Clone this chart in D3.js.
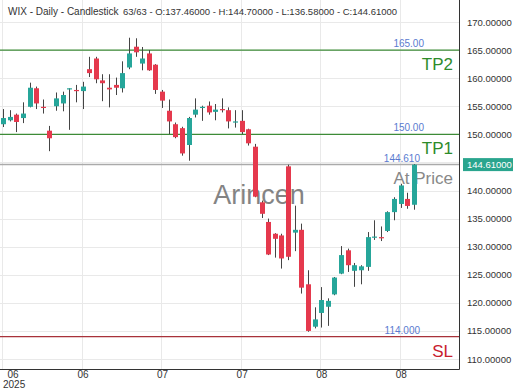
<!DOCTYPE html>
<html>
<head>
<meta charset="utf-8">
<script src="https://cdn.jsdelivr.net/npm/d3@7"></script>
<style>
  body { margin: 0; background: #fff; }
  svg { font-family: "Liberation Sans", Arial, sans-serif; }
</style>
</head>
<body>
<script>
// daily candles, 63 sessions
const open  = [151.8,152.5,153.5,152.9,154.9,158.2,154.9,150.65,155.0,155.5,158.0,157.9,157.7,161.6,163.5,159.6,158.3,158.8,158.2,161.9,165.6,162.6,164.4,162.4,157.6,154.2,151.8,151.1,148.1,153.5,154.7,155.1,154.0,154.5,154.3,152.1,152.4,150.9,147.8,137.9,134.4,132.3,132.0,144.3,132.5,133.0,123.3,115.75,118.2,119.3,121.5,125.2,129.35,125.7,125.8,126.4,131.6,131.7,132.8,136.15,137.6,138.5,137.46]
const high  = [154.5,154.3,153.7,155.7,159.2,158.5,156.2,151.5,157.45,157.6,158.2,158.8,159.35,163.8,163.8,160.7,160.7,160.1,163.0,167.2,167.1,165.55,165.0,162.5,157.9,156.2,152.1,151.35,153.1,156.4,155.1,155.85,155.4,156.4,154.8,154.3,154.3,151.0,148.3,138.2,135.0,132.4,132.3,144.6,137.3,134.1,125.8,119.2,122.8,120.8,124.6,130.1,129.65,127.1,126.7,132.6,134.7,133.6,136.3,138.8,141.2,139.6,144.70]
const low   = [151.3,152.3,150.4,152.0,154.8,154.5,153.7,147.0,154.2,154.1,150.8,155.7,154.5,160.2,159.1,155.9,154.8,157.0,157.45,161.6,163.8,161.4,161.3,157.2,154.7,150.05,149.3,146.2,145.3,153.0,152.4,153.5,152.5,153.9,151.05,151.2,150.05,148.0,138.8,135.1,128.5,128.05,126.1,127.6,129.2,121.65,114.85,115.45,115.6,115.9,121.35,125.1,125.5,122.85,123.3,125.7,131.2,131.0,132.6,134.7,136.9,136.75,136.58]
const close = [152.9,153.1,152.2,153.7,158.3,155.5,154.7,149.3,156.4,157.0,158.2,157.8,158.5,160.9,159.8,159.1,158.0,158.3,160.9,164.4,164.6,163.5,161.4,157.9,156.0,152.3,149.5,146.6,152.9,154.4,154.9,153.9,154.4,154.3,152.3,152.3,150.4,148.4,138.9,135.85,128.6,131.4,127.9,128.2,133.0,122.7,115.0,117.05,120.5,120.35,124.5,128.5,126.7,126.7,126.5,131.7,131.8,131.5,136.15,138.5,140.9,137.25,144.61]

const yTicks = [110,115,120,125,130,135,140,145,150,155,160,165,170,175]
const xTickIdx = [0,12,24,36,48,60]
const xTickLabels = ['06','06','07','07','08','08']

const levels = [165, 150, 114]
const levelNames = ['TP2','TP1','SL']
const levelText = ['165.00','150.00','114.000']
const lastPrice = 144.61

const W = 520, H = 390
const plotR = 459, plotB = 369
const up = '#26a69a', down = '#e5394d'

const svg = d3.select('body').append('svg').attr('width', W).attr('height', H)

const x = d3.scaleLinear().domain([0, 62]).range([3, 414])
const y = d3.scaleLinear().domain([110, 170]).range([359, 22])

svg.append('clipPath').attr('id', 'pc').append('rect')
  .attr('x', 0).attr('y', 0).attr('width', plotR).attr('height', plotB)

// grid
const grid = svg.append('g').attr('clip-path', 'url(#pc)')
grid.selectAll('.hg').data(yTicks).enter().append('line')
  .attr('x1', 0).attr('x2', plotR)
  .attr('y1', d => Math.round(y(d)) + 0.5).attr('y2', d => Math.round(y(d)) + 0.5)
  .attr('stroke', '#e9e9e9')
grid.selectAll('.vg').data(xTickIdx).enter().append('line')
  .attr('x1', d => Math.round(x(d)) - 0.5).attr('x2', d => Math.round(x(d)) - 0.5)
  .attr('y1', 0).attr('y2', plotB)
  .attr('stroke', '#e9e9e9')

// watermark
svg.append('text').attr('x', 259).attr('y', 204).attr('text-anchor', 'middle')
  .attr('font-size', 27).attr('fill', '#777').attr('opacity', 0.9).text('Arincen')

// levels
const lvColor = ['#3d8b37', '#3d8b37', '#a8323a']
const lv = svg.append('g')
levels.forEach((v, i) => {
  lv.append('line').attr('x1', 0).attr('x2', plotR)
    .attr('y1', y(v)).attr('y2', y(v))
    .attr('stroke', lvColor[i]).attr('stroke-width', 1.2)
  lv.append('text').attr('x', i == 2 ? 420 : 424).attr('y', y(v) - 3)
    .attr('text-anchor', 'end').attr('font-size', 10).attr('fill', '#5a7bd0')
    .text(levelText[i])
  lv.append('text').attr('x', 453).attr('y', y(v) + 20)
    .attr('text-anchor', 'end').attr('font-size', 17).attr('fill', i == 2 ? '#c8202e' : '#2e8b2a')
    .text(levelNames[i])
})
lv.append('line').attr('x1', 0).attr('x2', plotR)
  .attr('y1', y(lastPrice)).attr('y2', y(lastPrice))
  .attr('stroke', '#aaa').attr('stroke-width', 1.5)
lv.append('text').attr('x', 420).attr('y', y(lastPrice) - 3)
  .attr('text-anchor', 'end').attr('font-size', 10).attr('fill', '#5a7bd0')
  .text(lastPrice.toFixed(3))
lv.append('text').attr('x', 453).attr('y', y(lastPrice) + 19)
  .attr('text-anchor', 'end').attr('font-size', 17).attr('fill', '#888')
  .text('At Price')

// candles
const idx = d3.range(open.length)
const cg = svg.append('g').attr('clip-path', 'url(#pc)')
cg.selectAll('.wick').data(idx).enter().append('line')
  .attr('x1', i => Math.round(x(i)) + 0.5).attr('x2', i => Math.round(x(i)) + 0.5)
  .attr('y1', i => y(high[i])).attr('y2', i => y(low[i]))
  .attr('stroke', '#444').attr('stroke-width', 1)
cg.selectAll('.body').data(idx).enter().append('rect')
  .attr('x', i => Math.round(x(i)) - 2)
  .attr('width', 5)
  .attr('y', i => y(Math.max(open[i], close[i])))
  .attr('height', i => Math.max(1.2, Math.abs(y(open[i]) - y(close[i]))))
  .attr('fill', i => close[i] >= open[i] ? up : down)

// frame
svg.append('line').attr('x1', plotR + 0.5).attr('x2', plotR + 0.5).attr('y1', 0).attr('y2', plotB + 0.5)
  .attr('stroke', '#333')
svg.append('line').attr('x1', 0).attr('x2', plotR + 0.5).attr('y1', plotB + 0.5).attr('y2', plotB + 0.5)
  .attr('stroke', '#333')

// right axis (145 label sits under the price tag)
const yAxis = d3.axisRight(y).tickValues(yTicks).tickSize(0).tickPadding(8)
  .tickFormat(d => d == 145 ? '' : d.toFixed(5))
const gy = svg.append('g').attr('transform', `translate(${plotR},0)`).call(yAxis)
gy.select('.domain').remove()
gy.selectAll('text').attr('font-size', 9.5).attr('fill', '#333')
  .attr('font-family', '"Liberation Sans", Arial, sans-serif')

// last price tag
const tag = svg.append('g')
tag.append('rect').attr('x', 463).attr('y', y(lastPrice) - 6.5).attr('width', 50).attr('height', 13)
  .attr('fill', '#2aa58e')
tag.append('text').attr('x', 467).attr('y', y(lastPrice) + 3.5).attr('font-size', 9.5)
  .attr('fill', '#fff').text(lastPrice.toFixed(5))

// bottom axis
const xAxis = d3.axisBottom(x).tickValues(xTickIdx).tickSize(0).tickPadding(2)
  .tickFormat((d, i) => xTickLabels[i])
const gx = svg.append('g').attr('transform', `translate(0,${plotB})`).call(xAxis)
gx.select('.domain').remove()
gx.selectAll('text').attr('font-size', 10).attr('fill', '#333')
  .attr('font-family', '"Liberation Sans", Arial, sans-serif')
gx.selectAll('.tick').filter(d => d == 0).attr('transform', 'translate(13,0)')
svg.append('text').attr('x', 3).attr('y', 388).attr('font-size', 10).attr('fill', '#333').text('2025')

// title
svg.append('text').attr('x', 8).attr('y', 15).attr('font-size', 10).attr('fill', '#333')
  .text('WIX - Daily - Candlestick')
svg.append('text').attr('x', 123).attr('y', 15).attr('font-size', 9.5).attr('fill', '#333')
  .text('63/63 - O:137.46000 - H:144.70000 - L:136.58000 - C:144.61000')
</script>
</body>
</html>
